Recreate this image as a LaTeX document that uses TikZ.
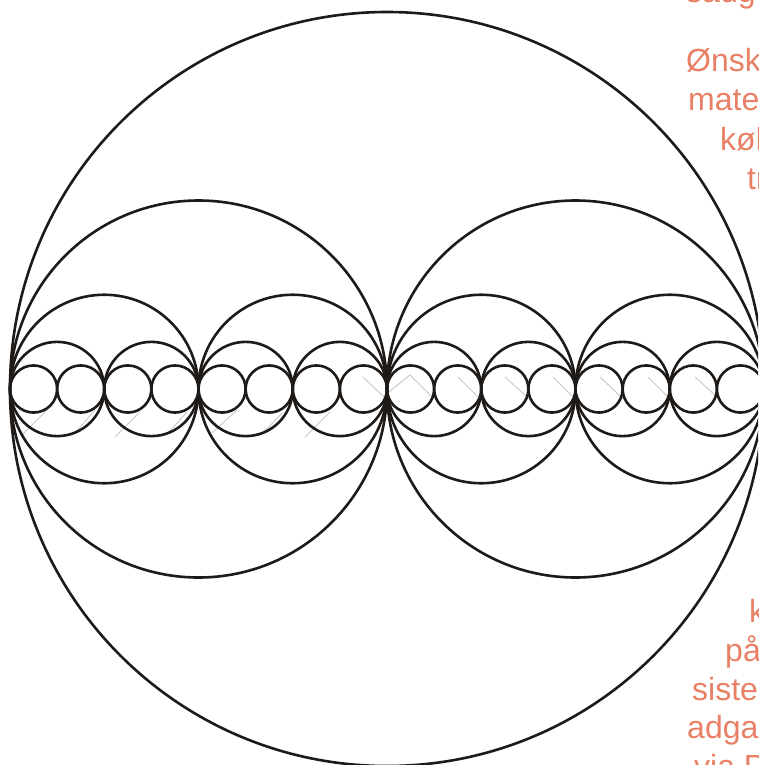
\documentclass[tikz,border=0pt]{standalone}
\usepackage{fontspec}
\setmainfont{Liberation Sans}
\usepackage{xcolor}
\definecolor{NoteSalmon}{RGB}{232,128,102}
\definecolor{RingBlack}{RGB}{30,26,24}

\begin{document}
\begin{tikzpicture}[x=1pt, y=-1pt]
    \tikzset{
        ring/.style={draw=RingBlack, line width=2.6pt},
        faint/.style={draw=black!22, line width=0.9pt},
        note/.style={anchor=base west, inner sep=0pt, text=NoteSalmon,
            font=\fontsize{32}{38}\selectfont}
    }
    \useasboundingbox (0,0) rectangle (758,765);
    \clip (0,0) rectangle (758,765);
    % faint guide strokes behind the rings
    \foreach \xa/\ya/\xb/\yb in {22/435/47/410, 75/433/95/410, 115/437/140/412,
        168/433/187/412, 212/433/237/410, 263/433/283/412, 305/437/330/412,
        363/377/385/398, 385/395/410/375, 410/375/432/397, 458/377/478/397,
        505/377/527/397, 553/377/573/397, 600/377/622/398, 648/377/668/397,
        695/377/717/397}
        \draw[faint] (\xa,\ya) -- (\xb,\yb);
    % nested rings, halving each level
    \foreach \lev in {0,...,4} {
        \pgfmathsetmacro{\rad}{377/(2^\lev)}
        \pgfmathtruncatemacro{\last}{2^\lev-1}
        \foreach \i in {0,...,\last}
            \draw[ring] ({10+\rad*(2*\i+1)},389) circle (\rad);
    }
    % side notes, cut by the page edge
    \node[note] (n1) at (686,3) {sadg};
    \node[note] (n2) at (686,72) {Ønsk};
    \node[note] (n3) at (688,111) {mate};
    \node[note] (n4) at (720,150) {køl};
    \node[note] (n5) at (747,189) {tr};
    \node[note] (n6) at (749,622) {k};
    \node[note] (n7) at (725,661) {på};
    \node[note] (n8) at (692,700) {siste};
    \node[note] (n9) at (687,738) {adga};
    \node[note] (n10) at (694,777) {via P};
\end{tikzpicture}
\end{document}
